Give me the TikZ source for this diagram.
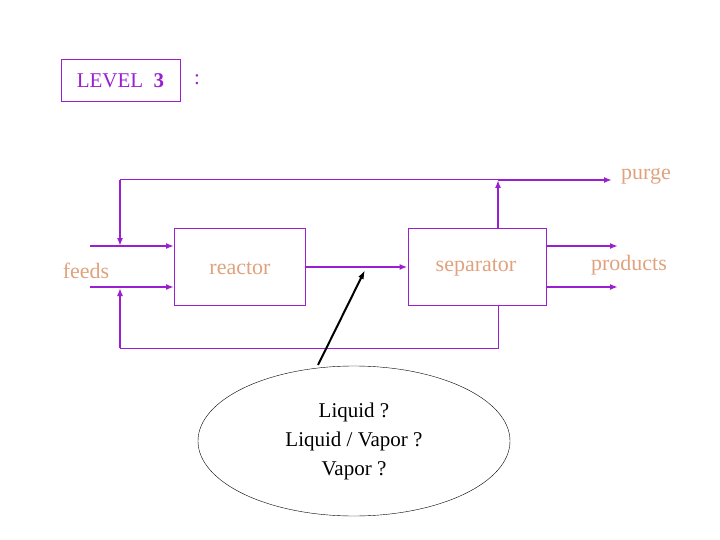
\documentclass[tikz,border=0pt]{standalone}
\usepackage{fontspec}
\setmainfont{Liberation Serif}
\usetikzlibrary{arrows.meta,shapes.geometric}
\definecolor{flow}{HTML}{9A1FD0}
\definecolor{tag}{HTML}{E0A27E}
\begin{document}
\begin{tikzpicture}[x=1pt,y=-1pt,
  every node/.style={inner sep=0pt},
  unit/.style={draw=flow, line width=1pt},
  stream/.style={draw=flow, line width=2pt, -{Latex[length=8pt,width=6pt]}},
  thin stream/.style={draw=flow, line width=1pt},
  lbl/.style={text=tag, font=\fontsize{22}{24}\selectfont}]
  \useasboundingbox (0,0) rectangle (720,540);
  \node[unit, minimum width=119pt, minimum height=42pt, text=flow, font=\fontsize{21}{24}\selectfont] (level) at (120.5,81) {LEVEL~~\textbf{3}};
  \node[text=flow, font=\fontsize{21}{24}\selectfont] (colon) at (197,80) {:};

  \node[unit, minimum width=131pt, minimum height=76pt] (reactor) at (239.5,267) {};
  \node[unit, minimum width=138pt, minimum height=76pt] (separator) at (477,267) {};
  \node[lbl] at (240,268) {reactor};
  \node[lbl] at (476,268) {separator};
  \node[lbl] (feeds) at (86,271) {feeds};
  \node[lbl] (products) at (629,265) {products};
  \node[lbl] (purge) at (646,176) {purge};

  % recycle loops
  \coordinate (tl) at (120,180);
  \coordinate (tr) at (498,180);
  \coordinate (bl) at (120,348);
  \coordinate (br) at (498,348);
  \draw[thin stream] (tl) -- (tr);
  \draw[stream] (tl) -- (120,246);
  \draw[stream] (separator.south -| tr) ++(0,-76) -- (tr);
  \draw[stream] (tr) -- (612,180);
  \draw[thin stream] (separator.south -| br) -- (br) -- (bl);
  \draw[stream] (bl) -- (120,288);

  % feeds and products
  \draw[stream] (90,246) -- (174,246);
  \draw[stream] (90,287) -- (174,287);
  \draw[stream] (546,246) -- (618,246);
  \draw[stream] (546,287) -- (618,287);
  \draw[stream] (reactor.east) -- (separator.west);

  \node[draw, ellipse, minimum width=312pt, minimum height=150pt, align=center,
        font=\fontsize{21}{29}\selectfont] (phase) at (354,441)
        {Liquid ?\\Liquid / Vapor ?\\Vapor ?};
  \draw[line width=2pt, -{Latex[length=9pt,width=6pt]}] (318,365) -- (365,270);
\end{tikzpicture}
\end{document}
